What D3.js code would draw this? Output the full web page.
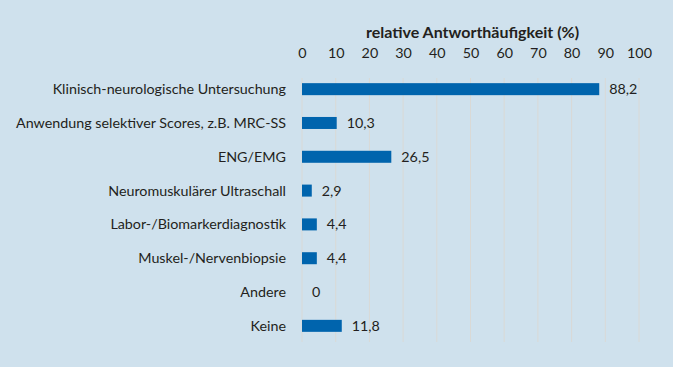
<!DOCTYPE html>
<html>
<head>
<meta charset="utf-8">
<script src="https://cdn.jsdelivr.net/npm/d3@7"></script>
<style>
  body { margin: 0; background: #cfe1ed; }
  svg text { font-family: Lato, "Open Sans", sans-serif; fill: #231f20; }
</style>
</head>
<body>
<div id="chart"></div>
<script>
// data
const categories = [
    "Klinisch-neurologische Untersuchung",
    "Anwendung selektiver Scores, z.B. MRC-SS",
    "ENG/EMG",
    "Neuromuskulärer Ultraschall",
    "Labor-/Biomarkerdiagnostik",
    "Muskel-/Nervenbiopsie",
    "Andere",
    "Keine"
];
const values = [88.2, 10.3, 26.5, 2.9, 4.4, 4.4, 0, 11.8];
const xTicks = [0, 10, 20, 30, 40, 50, 60, 70, 80, 90, 100];
const axisTitle = "relative Antworthäufigkeit (%)";

const width = 673, height = 367;
const margin = {top: 72, left: 302, right: 34, bottom: 24};

let svg = d3.select("#chart").append("svg")
    .attr("width", width)
    .attr("height", height);

svg.append("rect")
    .attr("width", width)
    .attr("height", height)
    .attr("fill", "#cfe1ed");

let x = d3.scaleLinear()
    .domain([0, 100])
    .range([margin.left, width - margin.right]);

let y = d3.scaleBand()
    .domain(categories)
    .range([margin.top, height - margin.bottom])
    .paddingInner(0.645)
    .paddingOuter(0.33);

let data = categories.map((c, i) => ({cat: c, val: values[i]}));

// gridlines
svg.append("g")
    .selectAll("line")
    .data(xTicks)
    .enter()
    .append("line")
    .attr("x1", d => x(d))
    .attr("x2", d => x(d))
    .attr("y1", 78)
    .attr("y2", 342)
    .attr("stroke", "#d9d9d6")
    .attr("stroke-width", 1);

// top axis labels
let xAxis = d3.axisTop(x)
    .tickValues(xTicks)
    .tickSize(0)
    .tickPadding(0);

let gx = svg.append("g")
    .attr("transform", "translate(0,58)")
    .call(xAxis);
gx.select(".domain").remove();
gx.selectAll("text")
    .style("font-size", "14.3px")
    .attr("fill", "#231f20");

svg.append("text")
    .attr("x", x(50) + 2)
    .attr("y", 38)
    .attr("text-anchor", "middle")
    .style("font-size", "16px")
    .style("font-weight", "bold")
    .text(axisTitle);

// category labels
svg.append("g")
    .selectAll("text")
    .data(data)
    .enter()
    .append("text")
    .attr("x", margin.left - 16)
    .attr("y", d => y(d.cat) + y.bandwidth() / 2)
    .attr("dy", "0.35em")
    .attr("text-anchor", "end")
    .style("font-size", "14.3px")
    .text(d => d.cat);

// bars
svg.append("g")
    .selectAll("rect")
    .data(data)
    .enter()
    .append("rect")
    .attr("x", x(0))
    .attr("y", d => y(d.cat))
    .attr("width", d => x(d.val) - x(0))
    .attr("height", y.bandwidth())
    .attr("fill", "#0064ad");

// value labels
svg.append("g")
    .selectAll("text")
    .data(data)
    .enter()
    .append("text")
    .attr("x", d => x(d.val) + 10)
    .attr("y", d => y(d.cat) + y.bandwidth() / 2)
    .attr("dy", "0.35em")
    .style("font-size", "14.3px")
    .text(d => String(d.val).replace(".", ","));
</script>
</body>
</html>
